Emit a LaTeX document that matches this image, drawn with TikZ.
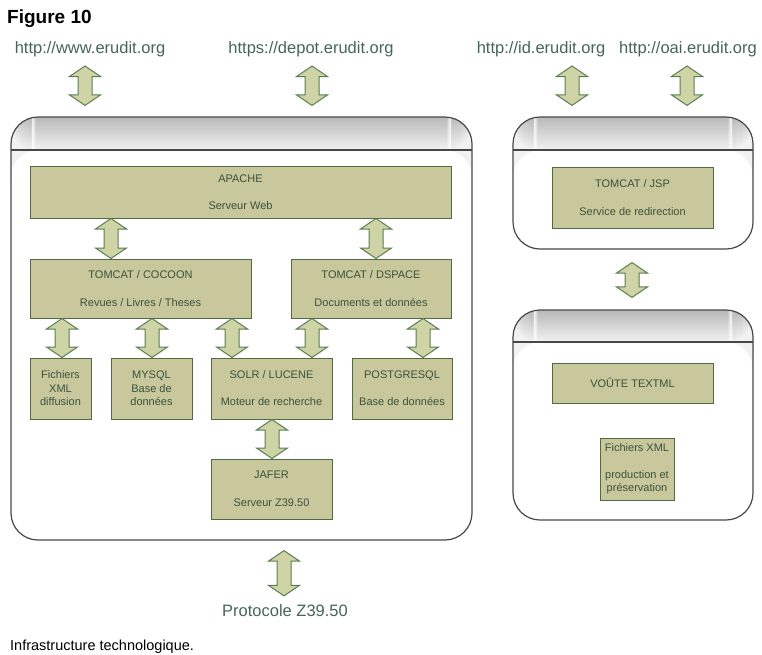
\documentclass[tikz,border=0pt]{standalone}
\usepackage{fontspec}
\setmainfont{Liberation Sans}
\usetikzlibrary{calc}
\definecolor{boxfill}{RGB}{201,200,157}
\definecolor{boxline}{RGB}{78,108,68}
\definecolor{boxtext}{RGB}{58,82,60}
\definecolor{arrfill}{RGB}{206,212,166}
\definecolor{arrline}{RGB}{92,126,82}
\definecolor{urltext}{RGB}{70,102,90}
\definecolor{contline}{RGB}{72,72,72}
\definecolor{hdtop}{RGB}{184,184,184}
\definecolor{hdbot}{RGB}{242,242,242}
\newcommand\darr[3]{%
  \path[dar] let \p1=(#1,0), \p2=#2, \p3=#3 in
  (\x1,\y2) -- (\x1+15.5pt,\y2-10.5pt) -- (\x1+7pt,\y2-10.5pt) -- (\x1+7pt,\y3+10.5pt)
  -- (\x1+15.5pt,\y3+10.5pt) -- (\x1,\y3) -- (\x1-15.5pt,\y3+10.5pt) -- (\x1-7pt,\y3+10.5pt)
  -- (\x1-7pt,\y2-10.5pt) -- (\x1-15.5pt,\y2-10.5pt) -- cycle;}
\tikzset{
  dar/.style={draw=arrline, fill=arrfill, line width=1pt, line join=miter},
  box/.style={draw=boxline, fill=boxfill, line width=1pt, text=boxtext, align=center,
    inner sep=0pt, font=\fontsize{11}{13.5}\selectfont},
  url/.style={text=urltext, inner sep=0pt, anchor=base, font=\fontsize{16.5}{18}\selectfont},
  container/.style={draw=contline, line width=1.2pt, rounded corners=27pt, inner sep=0pt,
    path picture={
      \foreach \i [evaluate=\i as \pc using {int(100-\i*100/#1)}] in {0,...,#1}{
        \fill[hdtop!\pc!hdbot]
          ([yshift=-\i pt]path picture bounding box.north west) rectangle
          ([yshift={-(\i+1.1)*1pt}]path picture bounding box.north east);
      }
      \draw[contline, line width=1.2pt]
        ([yshift=-#1pt]path picture bounding box.north west) -- ([yshift=-#1pt]path picture bounding box.north east);
    }},
}
\begin{document}
\begin{tikzpicture}[x=1pt,y=-1pt]
\useasboundingbox[fill=white] (0,0) rectangle (762,654);

% titles
\node[anchor=base west, inner sep=0pt, font=\fontsize{19}{21}\selectfont\bfseries] (fig) at (7,23) {Figure 10};
\node[anchor=base west, inner sep=0pt, font=\fontsize{14.5}{16}\selectfont] (cap) at (10,650) {Infrastructure technologique.};

% URLs
\node[url] (u1) at (90,53) {http://www.erudit.org};
\node[url] (u2) at (311,53) {https://depot.erudit.org};
\node[url] (u3) at (541,53) {http://id.erudit.org};
\node[url] (u4) at (688,53) {http://oai.erudit.org};

% containers
\node[container=33, minimum width=461pt, minimum height=423pt] (main) at (241.5,328.5) {};
\node[container=33, minimum width=240pt, minimum height=132pt] (r1) at (633,183) {};
\node[container=32, minimum width=240pt, minimum height=210pt] (r2) at (633,415) {};

% boxes
\node[box, minimum width=421pt, minimum height=52pt] (apache) at (240.5,192) {APACHE\\[14pt]Serveur Web};
\node[box, minimum width=221pt, minimum height=59pt] (cocoon) at (140.5,288.5) {TOMCAT / COCOON\\[14pt]Revues / Livres / Theses};
\node[box, minimum width=160pt, minimum height=59pt] (dspace) at (371,288.5) {TOMCAT / DSPACE\\[14pt]Documents et données};
\node[box, minimum width=61pt, minimum height=61pt] (fich) at (60.5,388.5) {Fichiers\\XML\\diffusion};
\node[box, minimum width=81pt, minimum height=61pt] (mysql) at (151.5,388.5) {MYSQL\\Base de\\données};
\node[box, minimum width=121pt, minimum height=61pt] (solr) at (271.5,388.5) {SOLR / LUCENE\\[13.5pt]Moteur de recherche};
\node[box, minimum width=100pt, minimum height=61pt] (pg) at (402,388.5) {POSTGRESQL\\[13.5pt]Base de données};
\node[box, minimum width=121pt, minimum height=60pt] (jafer) at (271.5,489) {JAFER\\[14pt]Serveur Z39.50};
\node[box, minimum width=161pt, minimum height=61pt] (jsp) at (632.5,197.5) {TOMCAT / JSP\\[14pt]Service de redirection};
\node[box, minimum width=161pt, minimum height=40pt] (voute) at (632.5,383) {VOÛTE TEXTML};
\node[box, minimum width=74pt, minimum height=62pt] (fprod) at (637,469) {Fichiers XML\\[13pt]production et\\préservation};

\node[url] (proto) at (285,616) {Protocole Z39.50};

% arrows
\darr{85}{([yshift=-13pt]u1.base)}{([yshift=11pt]main.north)}
\darr{312}{([yshift=-13pt]u2.base)}{([yshift=11pt]main.north)}
\darr{572}{([yshift=-13pt]u3.base)}{([yshift=11pt]r1.north)}
\darr{687}{([yshift=-13pt]u4.base)}{([yshift=11pt]r1.north)}
\darr{111}{(apache.south)}{(cocoon.north)}
\darr{376}{(apache.south)}{(dspace.north)}
\darr{62}{(cocoon.south)}{(fich.north)}
\darr{152}{(cocoon.south)}{(mysql.north)}
\darr{232}{(cocoon.south)}{(solr.north)}
\darr{312}{(dspace.south)}{(solr.north)}
\darr{423}{(dspace.south)}{(pg.north)}
\darr{272}{(solr.south)}{(jafer.north)}
\darr{632}{([yshift=-13pt]r1.south)}{([yshift=12pt]r2.north)}
\darr{284}{([yshift=-10pt]main.south)}{([yshift=8pt]proto.north)}
\end{tikzpicture}
\end{document}
